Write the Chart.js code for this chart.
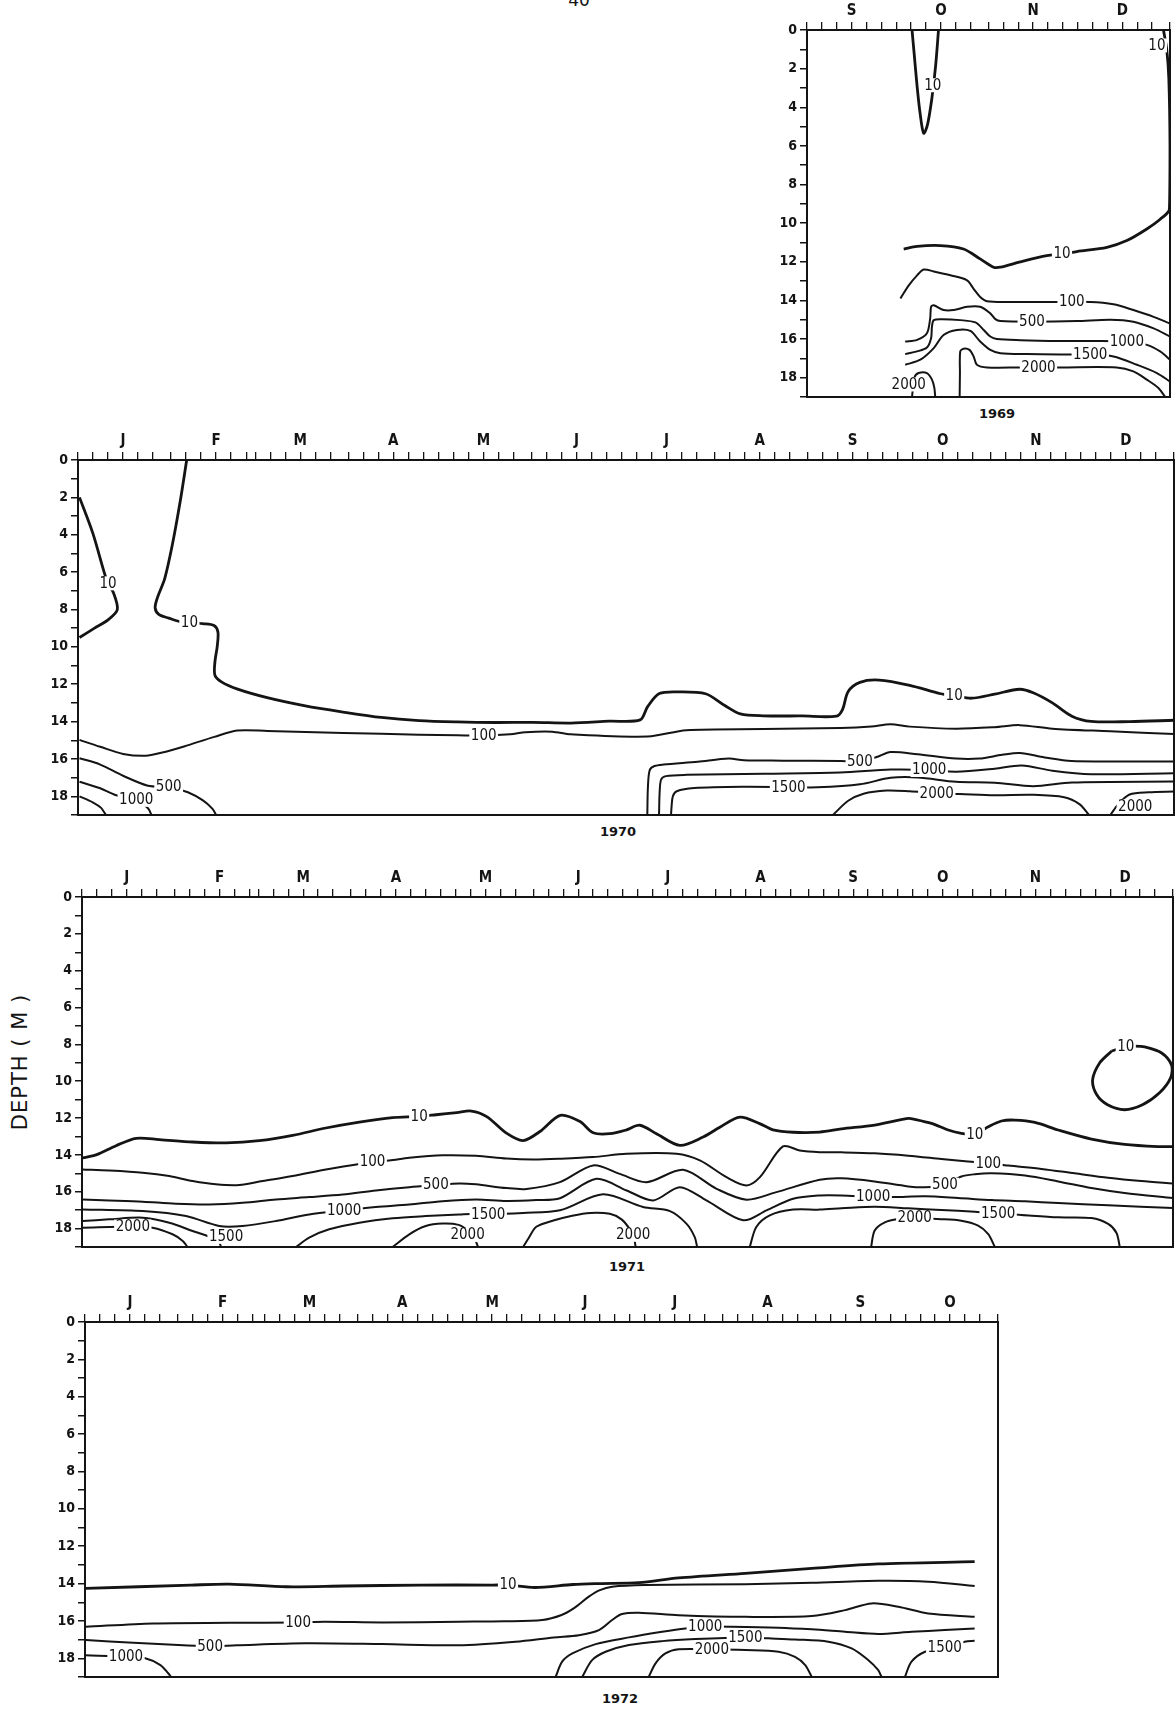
<!DOCTYPE html>
<html>
<head>
<meta charset="utf-8">
<title>Depth contours 1969-1972</title>
<script src="https://cdn.jsdelivr.net/npm/chart.js@4.4.1/dist/chart.umd.min.js"></script>
<style>
  html, body { margin: 0; padding: 0; background: #fff; }
  body { width: 1175px; height: 1712px; position: relative; overflow: hidden; color: #141414;
         font-family: 'DejaVu Sans', sans-serif; }
  canvas { position: absolute; }
  .txt { position: absolute; white-space: nowrap; }
  .year { font-size: 13px; font-weight: bold; transform: translate(-50%, -50%); }
  #page { left: 579px; top: -10px; font-size: 17px; transform: translateX(-50%); }
  #depth { left: 20px; top: 1062px; font-size: 21px; letter-spacing: 1px;
           transform: translate(-50%, -50%) rotate(-90deg); }
</style>
</head>
<body>
<div id="page" class="txt">40</div>
<div id="depth" class="txt">DEPTH ( M )</div>
<div class="txt year" style="left:997px;top:413px">1969</div>
<div class="txt year" style="left:618px;top:831px">1970</div>
<div class="txt year" style="left:627px;top:1266px">1971</div>
<div class="txt year" style="left:620px;top:1698px">1972</div>
<canvas id="c1969"></canvas>
<canvas id="c1970"></canvas>
<canvas id="c1971"></canvas>
<canvas id="c1972"></canvas>
<script>
const FONT = "'DejaVu Sans Condensed', 'DejaVu Sans', sans-serif";
const INK = '#141414';

const monthLetters = ['J', 'F', 'M', 'A', 'M', 'J', 'J', 'A', 'S', 'O', 'N', 'D'];
const monthLengths = [31, 28, 31, 30, 31, 30, 31, 31, 30, 31, 30, 31];
const monthLengthsLeap = [31, 29, 31, 30, 31, 30, 31, 31, 30, 31, 30, 31];
const depthMax = 19;

// contour lines: [day of year, depth m]

// 1969 (Sep - Dec)
const c69_10a = [[278.3,0],[279,1.2],[280,2.9],[281,4.3],[282.2,5.35],[283.5,4.9],[285,3.5],[286.2,1.9],[287.2,0]];
const c69_10b = [[275.5,11.34],[280,11.2],[287.8,11.16],[295.6,11.34],[301.2,11.85],[305.7,12.28],[308,12.28],[314.7,12.0],
  [323.6,11.68],[328.7,11.6],[333.7,11.47],[343.8,11.25],[350.5,10.9],[357.2,10.3],[361.7,9.8],[364.8,9.28],
  [365,6],[364.6,2.5],[363.9,1.0],[362.8,0]];
const c69_100 = [[274.4,13.9],[277.2,13.22],[280,12.7],[282.2,12.4],[285.6,12.5],[291.2,12.7],[296.8,12.96],[299,13.4],
  [301.2,13.82],[303.5,14.04],[311.3,14.08],[325.9,14.08],[338.2,14.08],[346,14.2],[352.7,14.5],[359.5,14.85],[365,15.2]];
const c69_500 = [[276,16.13],[280,16.04],[283.3,15.7],[284.4,14.93],[284.7,14.33],[285.6,14.25],[288.9,14.5],[292.3,14.5],
  [296.8,14.33],[301.2,14.33],[304.6,14.67],[306.3,14.97],[308,15.07],[318.6,15.1],[333.7,15.07],[344.9,15.0],
  [352.7,15.1],[359.5,15.45],[365,15.87]];
const c69_1000 = [[276,16.78],[280,16.64],[283.3,16.44],[284.7,15.96],[285,15.36],[285.6,15.02],[288.4,14.97],[294.5,15.02],
  [299.6,15.14],[302.4,15.53],[304.6,15.87],[306.8,16.0],[314.7,16.06],[328.1,16.1],[339.3,16.1],[350.5,16.13],
  [357.2,16.3],[361.7,16.64],[365,17.07]];
const c69_1500 = [[276,17.33],[281.1,17.07],[285.6,16.47],[288.9,15.79],[293.4,15.53],[297.9,15.58],[301.2,16.13],
  [304.6,16.56],[308,16.73],[316.9,16.78],[328.1,16.8],[338.2,16.8],[346,16.9],[353.9,17.33],[360.6,17.76],[365,18.2]];
const c69_2000a = [[278.3,19],[279.1,18.0],[280.5,17.76],[283.3,17.76],[285,18.1],[285.8,18.53],[286.1,19]];
const c69_2000b = [[294.3,19],[294.4,17.8],[294.5,16.64],[295.6,16.5],[297.6,16.56],[299,16.9],[300.1,17.33],[303.5,17.47],
  [314.7,17.47],[328.1,17.47],[347.1,17.47],[352.7,17.67],[357.2,18.1],[361.1,18.53],[363.4,19]];
const labels1969 = [[285.3,2.86,'10'],[360.6,0.8,'10'],[328.7,11.6,'10'],[332,14.08,'100'],[318.6,15.1,'500'],
  [350.5,16.13,'1000'],[338.2,16.8,'1500'],[320.8,17.47,'2000'],[277.2,18.35,'2000']];

// 1970
const c70_10a = [[0.5,2.0],[4.9,3.9],[8.7,6.0],[10,6.6],[11.8,7.1],[13.1,8.0],[10,8.56],[5.5,9.0],[0.5,9.5]];
const c70_10b = [[36.2,0],[34,2.25],[31.4,4.55],[28.9,6.33],[26.4,7.39],[25.7,7.92],[27,8.28],[30.2,8.46],[34,8.65],
  [37.1,8.69],[41.5,8.76],[45.3,8.86],[46.6,9.21],[46.4,9.93],[45.6,10.81],[45.6,11.52],[47.9,11.89],[52.9,12.25],
  [63,12.72],[75.7,13.16],[88.3,13.49],[101,13.78],[113.6,13.95],[126.3,14.02],[138.9,14.05],[151.5,14.04],
  [164.1,14.08],[176.9,13.98],[187.2,13.91],[189.7,13.2],[193.6,12.5],[200,12.41],[209,12.51],[215.4,13.14],
  [220.6,13.59],[228.3,13.69],[241.1,13.7],[252.6,13.71],[254.6,13.36],[256.5,12.39],[260.4,11.9],[266.8,11.78],
  [277,12.06],[287.3,12.51],[291.8,12.61],[297.6,12.75],[305.3,12.53],[313.6,12.27],[318.1,12.46],[324.5,13.0],
  [331,13.71],[337.4,13.99],[350.2,14.0],[365,13.93]];
const c70_100 = [[0.5,14.98],[7.4,15.35],[15,15.73],[22.6,15.83],[27.7,15.67],[35.3,15.33],[45.4,14.82],[53,14.48],
  [63.1,14.5],[88.4,14.61],[113.6,14.7],[126.3,14.73],[135.1,14.75],[144,14.68],[149,14.57],[157.9,14.54],
  [164.1,14.68],[189.7,14.8],[202.6,14.46],[228.3,14.4],[253.9,14.34],[264.2,14.26],[270.6,14.14],[277,14.27],
  [292.4,14.38],[305.3,14.3],[313.6,14.19],[324.5,14.38],[343.8,14.52],[365,14.67]];
const c70_500a = [[0.5,15.96],[7.4,16.3],[15,16.9],[23.3,17.43],[30.2,17.5],[36.6,17.78],[41.6,18.22],[44.8,18.67],[46,19]];
const c70_1000a = [[0.5,17.22],[7.4,17.57],[12.5,17.93],[19.4,18.19],[23.3,18.64],[24.5,19]];
const c70_1500a = [[0.5,18.0],[4.9,18.32],[7.7,18.62],[9.3,19]];
const c70_500b = [[189.6,19],[189.8,17.5],[190.4,16.6],[192,16.38],[195,16.3],[206.4,16.15],[216.7,15.98],[221.8,16.07],
  [234.7,16.09],[253.9,16.11],[260.4,16.12],[266,15.9],[270.6,15.63],[279.6,15.75],[292.4,15.98],[300.1,15.98],
  [307.8,15.78],[313.6,15.68],[321.9,15.92],[330.9,16.11],[365,16.14]];
const c70_1000b = [[193.5,19],[193.7,17.8],[194.2,17.1],[195.8,16.92],[202.6,16.85],[228.3,16.79],[253.9,16.73],
  [270.6,16.57],[283.5,16.59],[292.4,16.68],[305.3,16.52],[314.3,16.35],[324.5,16.63],[337.4,16.82],[365,16.76]];
const c70_1500b = [[197.5,19],[197.7,18.5],[198.1,18.0],[199.4,17.73],[205.2,17.56],[221.8,17.49],[236.6,17.51],
  [246.2,17.52],[260.4,17.36],[270.6,17.01],[279.6,16.99],[292.4,17.22],[305.3,17.27],[318.1,17.46],[331,17.26],[365,17.21]];
const c70_2000a = [[251.4,19],[256.5,18.24],[261.6,17.86],[269.3,17.69],[277,17.73],[286,17.83],[293.7,17.87],
  [305.3,17.94],[318.1,17.92],[328.4,18.05],[333.5,18.42],[336.7,19]];
const c70_2000b = [[343.8,19],[346.4,18.43],[350.2,17.9],[356.6,17.78],[365,17.74]];
const labels1970 = [[10,6.6,'10'],[37.1,8.69,'10'],[135.1,14.75,'100'],[30.2,17.5,'500'],[19.4,18.19,'1000'],
  [291.8,12.61,'10'],[260.4,16.12,'500'],[283.5,16.59,'1000'],[236.6,17.51,'1500'],[286,17.83,'2000'],[352.1,18.53,'2000']];

// 1971
const c71_10 = [[0.2,14.16],[4.7,14.0],[11.4,13.5],[18.1,13.1],[25.9,13.17],[37,13.3],[48.2,13.35],[59.3,13.23],
  [70.5,12.94],[81.6,12.54],[92.8,12.22],[103.9,11.98],[112.8,11.91],[118.4,11.82],[125.4,11.7],[130.3,11.62],
  [135.4,11.92],[142,12.82],[147.6,13.22],[153.2,12.73],[160,11.85],[166.6,12.19],[171,12.8],[176.6,12.85],
  [182.2,12.64],[186.6,12.39],[192.2,12.85],[200,13.48],[207.8,13.03],[213.4,12.5],[220.1,11.95],[226.7,12.3],
  [231.2,12.64],[237.9,12.77],[246.8,12.76],[254.1,12.59],[265.2,12.38],[276.4,12.02],[278.6,12.07],[284.2,12.29],
  [289.8,12.65],[294.2,12.83],[298.7,12.88],[303.2,12.47],[307.6,12.16],[312.1,12.11],[318.8,12.24],[326.6,12.65],
  [337.7,13.14],[348.8,13.43],[360,13.55],[365,13.55]];
const c71_10loop = [[344.5,8.36],[340.5,9.0],[338.1,9.93],[339.5,10.74],[343.1,11.28],[348.8,11.55],[354.8,11.28],
  [360.5,10.63],[364.2,9.82],[364.5,9.12],[361.2,8.47],[355.5,8.14],[352.2,8.09],[349.2,8.12],[344.5,8.36]];
const c71_100 = [[0.2,14.79],[9.1,14.85],[20.3,14.97],[29.2,15.15],[37,15.42],[44.8,15.6],[52.6,15.64],[60.4,15.42],
  [70.5,15.15],[81.6,14.79],[92.8,14.49],[97.2,14.38],[102.8,14.31],[109.5,14.16],[120.6,14.02],[131.8,14.05],
  [142,14.2],[151,14.25],[159.9,14.21],[171,14.12],[182.2,13.94],[198.9,13.94],[206.7,14.3],[215.6,15.21],
  [222.3,15.66],[226.8,15.21],[234.5,13.54],[240.1,13.76],[246.8,13.85],[254.1,13.86],[265.2,13.91],[276.4,14.04],
  [287.5,14.22],[296.4,14.36],[303.2,14.45],[309.9,14.58],[321,14.76],[332.1,15.0],[343.3,15.24],[354.4,15.42],[365,15.55]];
const c71_500 = [[0.2,16.42],[9.1,16.47],[20.3,16.54],[31.4,16.65],[42.6,16.69],[53.7,16.6],[64.9,16.42],[76,16.29],
  [87.2,16.15],[98.3,15.93],[109.5,15.75],[118.4,15.64],[126.2,15.55],[131.8,15.6],[142,15.8],[148.7,15.85],
  [159.9,15.48],[171,14.57],[179.9,15.03],[188.9,15.48],[201.1,14.81],[212.3,15.84],[222.3,16.43],[232.3,16.02],
  [246.8,15.35],[254.1,15.27],[265.2,15.44],[276.4,15.71],[282,15.76],[288.7,15.62],[294.2,15.17],[298.7,15.05],
  [304.3,15.0],[315.5,15.12],[326.6,15.44],[337.7,15.8],[348.8,16.07],[365,16.34]];
const c71_1000 = [[0.2,16.96],[20.3,17.05],[34.8,17.32],[45.9,17.86],[53.7,17.86],[64.9,17.59],[76,17.23],[87.7,17.01],
  [98.3,16.83],[109.5,16.69],[120.6,16.51],[131.8,16.42],[142,16.5],[152,16.45],[159.9,16.35],[172.1,15.3],
  [182.2,15.93],[191.1,16.47],[200,15.75],[208.9,16.47],[221.2,17.55],[229,17.01],[237.9,16.38],[246.8,16.2],
  [254.1,16.2],[264.7,16.29],[271.9,16.29],[282,16.25],[293.1,16.34],[304.3,16.45],[315.5,16.52],[326.6,16.61],
  [343.3,16.74],[365,16.88]];
const c71_1500a = [[0.2,17.59],[9.1,17.5],[20.3,17.41],[29.2,17.68],[37,18.13],[42.6,18.45],[45.9,18.76],[46.5,19]];
const c71_1500b = [[71.6,19],[76,18.49],[82.7,18.04],[92.8,17.68],[103.9,17.44],[115,17.32],[126.2,17.23],[131.8,17.19],
  [135.9,17.22],[147.6,17.15],[159.9,17.01],[174.3,16.14],[187.7,16.83],[196.7,17.05],[202.2,17.73],[205,18.46],[205.8,19]];
const c71_1500c = [[223.4,19],[225.6,17.91],[230.1,17.28],[237.9,16.97],[246.8,16.97],[254.1,16.9],[265.2,16.81],
  [276.4,16.9],[287.5,16.99],[298.7,17.08],[306.5,17.17],[314.4,17.26],[326.6,17.39],[337.7,17.43],[343.3,17.75],
  [346.1,18.24],[347.2,19]];
const c71_2000a = [[0.2,17.95],[17,17.89],[23.6,17.95],[30.3,18.31],[33.7,18.67],[35.3,19]];
const c71_2000b = [[103.9,19],[109.5,18.31],[115,17.86],[120.6,17.73],[126,17.8],[129,18.1],[131.5,18.6],[132.5,19]];
const c71_2000c = [[147.6,19],[149.5,18.5],[152,17.9],[158,17.55],[164,17.3],[170,17.15],[176.6,17.2],[180.5,17.5],
  [183.3,18.05],[184.8,18.6],[185.2,19]];
const c71_2000d = [[264,19],[265.2,18.1],[268.6,17.66],[273,17.48],[278.6,17.42],[286.4,17.48],[294.2,17.57],
  [299.8,17.84],[303.2,18.3],[305.4,19]];
const labels1971 = [[17,17.89,'2000'],[48.2,18.45,'1500'],[87.7,17.01,'1000'],[97.2,14.38,'100'],[112.8,11.91,'10'],
  [118.4,15.64,'500'],[135.9,17.22,'1500'],[129,18.35,'2000'],[184.4,18.34,'2000'],[298.7,12.88,'10'],
  [303.2,14.45,'100'],[288.7,15.62,'500'],[264.7,16.29,'1000'],[306.5,17.17,'1500'],[278.6,17.42,'2000'],[349.2,8.12,'10']];

// 1972 (Jan - Oct)
const c72_10 = [[0.3,14.26],[35.4,14.08],[48.2,14.03],[67.3,14.17],[86.5,14.13],[112,14.08],[136.2,14.08],[141.3,14.08],
  [150.3,14.21],[163,14.05],[171.7,14.0],[185,13.95],[198.3,13.7],[220.6,13.45],[242.8,13.19],[265,12.95],[297.2,12.83]];
const c72_100 = [[0.3,16.31],[22.7,16.13],[48.2,16.1],[71.2,16.08],[80.1,16.04],[99.3,16.08],[124.8,16.04],[140,16.02],
  [152.8,15.95],[159.2,15.68],[163.5,15.3],[168.3,14.7],[172,14.35],[176.1,14.17],[187.2,14.08],[220.6,14.03],
  [242.8,13.96],[265,13.85],[281.7,13.9],[297.2,14.13]];
const c72_500 = [[0.3,17.02],[16.2,17.17],[32.8,17.3],[41.8,17.35],[50.7,17.3],[73.6,17.2],[99.3,17.24],[124.8,17.3],
  [143.8,17.11],[156.6,16.88],[165,16.76],[171.7,16.49],[176.1,15.95],[179.4,15.63],[185,15.56],[198.3,15.69],
  [220.6,15.78],[242.8,15.74],[253.9,15.42],[262.8,15.06],[271.7,15.24],[281.7,15.6],[297.2,15.78]];
const c72_1000a = [[0.3,17.83],[13.7,17.92],[20.1,18.0],[25.2,18.36],[27.8,18.8],[28.8,19]];
const c72_1000b = [[157.2,19],[159.4,18.18],[162.8,17.74],[170.6,17.24],[181.7,16.88],[192.8,16.58],[200.6,16.4],
  [207.2,16.31],[216.1,16.31],[231.7,16.36],[242.8,16.45],[253.9,16.58],[265,16.7],[276.1,16.58],[287.2,16.49],[297.2,16.4]];
const c72_1500a = [[166.1,19],[169.4,18.1],[173.9,17.65],[181.7,17.29],[192.8,17.08],[203.9,16.97],[220.6,16.88],
  [228.3,16.93],[237.2,16.99],[248.3,17.11],[256.1,17.47],[261.7,18.1],[265,18.63],[266.1,19]];
const c72_2000 = [[188.3,19],[190.6,18.27],[193.9,17.74],[198.3,17.52],[209.4,17.52],[220.6,17.56],[231.7,17.65],
  [237.2,17.92],[240.6,18.36],[242.8,19]];
const c72_1500b = [[273.9,19],[276.1,18.18],[280.6,17.65],[287.2,17.42],[293.9,17.11],[297.2,17.06]];
const labels1972 = [[141.3,14.08,'10'],[71.2,16.08,'100'],[41.8,17.35,'500'],[13.7,17.92,'1000'],
  [207.2,16.31,'1000'],[220.6,16.88,'1500'],[209.4,17.52,'2000'],[287.2,17.42,'1500']];

const AXIS_H = 30;
const PAD_R = 8;
const PAD_B = 12;

// tick every 5 days, month letter in the middle of each month
function monthTicks(firstMonth, lastMonth, lengths) {
  const values = [];
  const names = {};
  let start = lengths.slice(0, firstMonth).reduce((a, b) => a + b, 0);
  for (let m = firstMonth; m <= lastMonth; m++) {
    for (let k = 0; lengths[m] - k >= 3; k += 5) values.push(start + k);
    names[start + 15] = monthLetters[m];
    start += lengths[m];
  }
  values.push(start);
  return { values, names, min: values[0], max: start };
}

const contourLabels = {
  id: 'contourLabels',
  afterDatasetsDraw(chart, args, opts) {
    const { ctx, chartArea, scales: { x, y } } = chart;
    ctx.save();
    ctx.font = '15px ' + FONT;
    ctx.textAlign = 'center';
    ctx.textBaseline = 'middle';
    for (const [day, depth, text] of opts.items) {
      const px = x.getPixelForValue(day);
      const py = y.getPixelForValue(depth);
      const w = ctx.measureText(text).width + 3;
      ctx.save();
      ctx.beginPath();
      ctx.rect(chartArea.left + 1.5, chartArea.top + 1.5, chartArea.width - 3, chartArea.height - 3);
      ctx.clip();
      ctx.fillStyle = '#fff';
      ctx.fillRect(px - w / 2, py - 7, w, 14);
      ctx.restore();
      ctx.fillStyle = INK;
      ctx.fillText(text, px, py + 0.5);
    }
    ctx.restore();
  }
};

function drawPanel(id, frame, ticks, lines, labels) {
  const axisW = 40;
  const canvas = document.getElementById(id);
  const W = axisW + (frame.right - frame.left) + PAD_R;
  const H = AXIS_H + (frame.bottom - frame.top) + PAD_B;
  canvas.width = W;
  canvas.height = H;
  canvas.style.left = (frame.left - axisW) + 'px';
  canvas.style.top = (frame.top - AXIS_H) + 'px';
  canvas.style.width = W + 'px';
  canvas.style.height = H + 'px';

  const edge = { color: INK, width: 2 };
  new Chart(canvas, {
    type: 'line',
    data: {
      datasets: lines.map(([level, pts]) => ({
        data: pts.map(([x, y]) => ({ x, y })),
        borderColor: INK,
        borderWidth: level === '10' ? 2.8 : 2.0,
        pointRadius: 0,
        tension: 0.3,
        fill: false
      }))
    },
    options: {
      responsive: false,
      animation: false,
      devicePixelRatio: 1,
      events: [],
      layout: { padding: { left: 0, top: 0, right: PAD_R, bottom: PAD_B } },
      plugins: {
        legend: { display: false },
        tooltip: { enabled: false },
        contourLabels: { items: labels }
      },
      scales: {
        x: {
          type: 'linear', position: 'top', min: ticks.min, max: ticks.max,
          afterBuildTicks: (axis) => { axis.ticks = ticks.values.map(v => ({ value: v })); },
          afterFit: (axis) => { axis.height = AXIS_H; },
          ticks: { autoSkip: false, maxRotation: 0, padding: 2, color: INK,
                   font: { family: FONT, size: 15, weight: 'bold' },
                   callback: (v) => ticks.names[v] || '' },
          grid: { drawOnChartArea: false, tickLength: 8, color: INK, lineWidth: 1.3 },
          border: edge
        },
        y: {
          type: 'linear', reverse: true, min: 0, max: depthMax,
          afterFit: (axis) => { axis.width = axisW; },
          ticks: { stepSize: 1, autoSkip: false, padding: 3, color: INK,
                   font: { family: FONT, size: 14, weight: 'bold' },
                   callback: (v) => (v % 2 === 0 && v < depthMax) ? String(v) : '' },
          grid: { drawOnChartArea: false, tickLength: 7, color: INK, lineWidth: 1.5 },
          border: edge
        },
        x2: {
          type: 'linear', position: 'bottom', min: ticks.min, max: ticks.max,
          afterFit: (axis) => { axis.height = 0; },
          ticks: { display: false }, grid: { display: false }, border: edge
        },
        y2: {
          type: 'linear', position: 'right', reverse: true, min: 0, max: depthMax,
          afterFit: (axis) => { axis.width = 0; },
          ticks: { display: false }, grid: { display: false }, border: edge
        }
      }
    },
    plugins: [contourLabels]
  });
}

drawPanel('c1969', { left: 807, top: 30, right: 1170, bottom: 397 },
  monthTicks(8, 11, monthLengths),
  [['10', c69_10a], ['10', c69_10b], ['100', c69_100], ['500', c69_500], ['1000', c69_1000],
   ['1500', c69_1500], ['2000', c69_2000a], ['2000', c69_2000b]],
  labels1969);

drawPanel('c1970', { left: 78, top: 460, right: 1174, bottom: 815 },
  monthTicks(0, 11, monthLengths),
  [['10', c70_10a], ['10', c70_10b], ['100', c70_100], ['500', c70_500a], ['1000', c70_1000a],
   ['1500', c70_1500a], ['500', c70_500b], ['1000', c70_1000b], ['1500', c70_1500b],
   ['2000', c70_2000a], ['2000', c70_2000b]],
  labels1970);

drawPanel('c1971', { left: 82, top: 897, right: 1173, bottom: 1247 },
  monthTicks(0, 11, monthLengths),
  [['10', c71_10], ['10', c71_10loop], ['100', c71_100], ['500', c71_500], ['1000', c71_1000],
   ['1500', c71_1500a], ['1500', c71_1500b], ['1500', c71_1500c],
   ['2000', c71_2000a], ['2000', c71_2000b], ['2000', c71_2000c], ['2000', c71_2000d]],
  labels1971);

drawPanel('c1972', { left: 85, top: 1322, right: 998, bottom: 1677 },
  monthTicks(0, 9, monthLengthsLeap),
  [['10', c72_10], ['100', c72_100], ['500', c72_500], ['1000', c72_1000a], ['1000', c72_1000b],
   ['1500', c72_1500a], ['2000', c72_2000], ['1500', c72_1500b]],
  labels1972);
</script>
</body>
</html>
